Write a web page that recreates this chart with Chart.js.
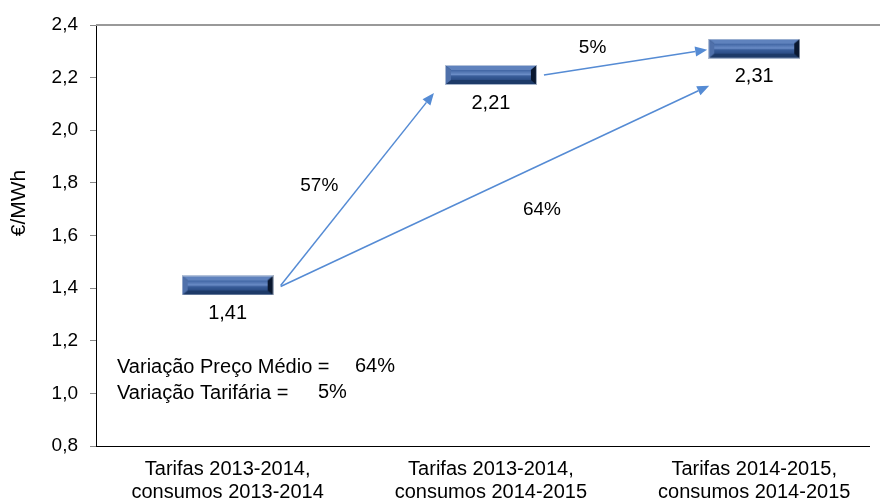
<!DOCTYPE html>
<html>
<head>
<meta charset="utf-8">
<script src="https://cdn.jsdelivr.net/npm/chart.js@4"></script>
<style>
  html, body { margin: 0; padding: 0; background: #fff; }
  #wrap { width: 880px; height: 502px; }
</style>
</head>
<body>
<div id="wrap"><canvas id="chart" width="880" height="502"></canvas></div>
<script>
// data
const categories = [
    ['Tarifas 2013-2014,', 'consumos 2013-2014'],
    ['Tarifas 2013-2014,', 'consumos 2014-2015'],
    ['Tarifas 2014-2015,', 'consumos 2014-2015']
];
const prices = [1.41, 2.21, 2.31];
const priceLabels = ['1,41', '2,21', '2,31'];
// arrows: [from index, to index, label]
const arrowFrom = [0, 1, 0];
const arrowTo = [1, 2, 2];
const arrowText = ['57%', '5%', '64%'];
const summaryText = ['Variação Preço Médio =', 'Variação Tarifária ='];
const summaryValues = ['64%', '5%'];
const yTicks = [0.8, 1.0, 1.2, 1.4, 1.6, 1.8, 2.0, 2.2, 2.4];

const FONT = 'Liberation Sans, Arial, sans-serif';
const ARROW_COLOR = '#558bd4';

// bevelled bar marker
function makeMarker() {
    const w = 92, h = 20, b = 6, bv = 5;
    const c = document.createElement('canvas');
    c.width = w; c.height = h;
    const g = c.getContext('2d');
    g.fillStyle = '#1b3560';
    g.fillRect(0, 0, w, h);
    const poly = (pts, fill) => {
        g.beginPath();
        g.moveTo(pts[0][0], pts[0][1]);
        pts.slice(1).forEach(p => g.lineTo(p[0], p[1]));
        g.closePath();
        g.fillStyle = fill;
        g.fill();
    };
    poly([[0,0],[w,0],[w-b,bv],[b,bv]], '#5f82bd');
    poly([[0,h],[w,h],[w-b,h-bv],[b,h-bv]], '#1d3a68');
    poly([[0,0],[b,bv],[b,h-bv],[0,h]], '#4f70aa');
    poly([[w,0],[w-b,bv],[w-b,h-bv],[w,h]], '#0a1830');
    const grad = g.createLinearGradient(0, bv, 0, h - bv);
    grad.addColorStop(0, '#3f64a2');
    grad.addColorStop(0.45, '#6a8cc6');
    grad.addColorStop(0.6, '#3a5e9b');
    grad.addColorStop(1, '#2b4c85');
    g.fillStyle = grad;
    g.fillRect(b, bv, w - 2 * b, h - 2 * bv);
    g.strokeStyle = 'rgba(200,210,225,0.8)';
    g.lineWidth = 1;
    g.strokeRect(0.5, 0.5, w - 1, h - 1);
    return c;
}

function drawArrow(ctx, x1, y1, x2, y2) {
    const ang = Math.atan2(y2 - y1, x2 - x1);
    const len = 12, hw = 5;
    const bx = x2 - len * Math.cos(ang), by = y2 - len * Math.sin(ang);
    ctx.strokeStyle = ARROW_COLOR;
    ctx.fillStyle = ARROW_COLOR;
    ctx.lineWidth = 1.5;
    ctx.beginPath();
    ctx.moveTo(x1, y1);
    ctx.lineTo(bx, by);
    ctx.stroke();
    ctx.beginPath();
    ctx.moveTo(x2, y2);
    ctx.lineTo(bx + hw * Math.sin(ang), by - hw * Math.cos(ang));
    ctx.lineTo(bx - hw * Math.sin(ang), by + hw * Math.cos(ang));
    ctx.closePath();
    ctx.fill();
}

// offsets from marker centre to the arrow ends
const startOff = [[53, 0], [53, 0], [53, 1]];
const endOff = [[-57, 18], [-47, 1], [-45, 37]];
const textOff = [[-38, -3], [-33, -15], [47, 24]];

const annotations = {
    id: 'annotations',
    afterDatasetsDraw(chart) {
        const ctx = chart.ctx;
        const area = chart.chartArea;
        const pts = chart.getDatasetMeta(0).data;
        const y = chart.scales.y;
        ctx.save();

        // top border
        ctx.strokeStyle = '#999';
        ctx.lineWidth = 2;
        ctx.beginPath();
        ctx.moveTo(area.left, area.top);
        ctx.lineTo(chart.width, area.top);
        ctx.stroke();

        // arrows + percentages
        ctx.font = '19px ' + FONT;
        ctx.textAlign = 'center';
        ctx.textBaseline = 'middle';
        for (let i = 0; i < arrowText.length; i++) {
            const a = pts[arrowFrom[i]], b = pts[arrowTo[i]];
            const x1 = a.x + startOff[i][0], y1 = a.y + startOff[i][1];
            const x2 = b.x + endOff[i][0], y2 = b.y + endOff[i][1];
            drawArrow(ctx, x1, y1, x2, y2);
            ctx.fillStyle = '#000';
            ctx.fillText(arrowText[i], (x1 + x2) / 2 + textOff[i][0], (y1 + y2) / 2 + textOff[i][1]);
        }

        // value labels
        ctx.font = '20px ' + FONT;
        ctx.fillStyle = '#000';
        pts.forEach((p, i) => ctx.fillText(priceLabels[i], p.x, p.y + 28));

        // summary
        ctx.textAlign = 'left';
        ctx.fillText(summaryText[0], area.left + 21, y.getPixelForValue(1.1));
        ctx.fillText(summaryValues[0], area.left + 259, y.getPixelForValue(1.1) - 1);
        ctx.fillText(summaryText[1], area.left + 21, y.getPixelForValue(1.0));
        ctx.fillText(summaryValues[1], area.left + 222, y.getPixelForValue(1.0) - 1);

        // y title
        ctx.translate(19, 203);
        ctx.rotate(-Math.PI / 2);
        ctx.textAlign = 'center';
        ctx.font = '21px ' + FONT;
        ctx.fillText('€/MWh', 0, 0);
        ctx.restore();
    }
};

new Chart(document.getElementById('chart'), {
    type: 'line',
    data: {
        datasets: [{
            data: prices.map((v, i) => ({x: i, y: v})),
            showLine: false,
            pointStyle: makeMarker(),
            pointRadius: 10,
            pointHoverRadius: 10
        }]
    },
    options: {
        responsive: false,
        animation: false,
        events: [],
        layout: {padding: {top: 25, right: 0, left: 0, bottom: 0}},
        plugins: {legend: {display: false}, tooltip: {enabled: false}},
        scales: {
            x: {
                type: 'linear',
                min: -0.5,
                max: 2.436,
                afterBuildTicks: s => { s.ticks = categories.map((c, i) => ({value: i})); },
                afterFit: s => { s.height = 56; },
                grid: {display: false, drawTicks: false},
                border: {display: true, color: '#000', width: 1},
                ticks: {
                    callback: v => categories[v],
                    color: '#000',
                    font: {family: FONT, size: 20, lineHeight: 1.15},
                    padding: 12,
                    maxRotation: 0,
                    autoSkip: false
                }
            },
            y: {
                min: 0.8,
                max: 2.4,
                afterBuildTicks: s => { s.ticks = yTicks.map(v => ({value: v})); },
                afterFit: s => { s.width = 96; },
                grid: {drawOnChartArea: false, drawTicks: true, tickLength: 6, color: '#888'},
                border: {display: true, color: '#000', width: 1},
                ticks: {
                    callback: v => v.toFixed(1).replace('.', ','),
                    color: '#000',
                    font: {family: FONT, size: 19},
                    padding: 12
                }
            }
        }
    },
    plugins: [annotations]
});
</script>
</body>
</html>
